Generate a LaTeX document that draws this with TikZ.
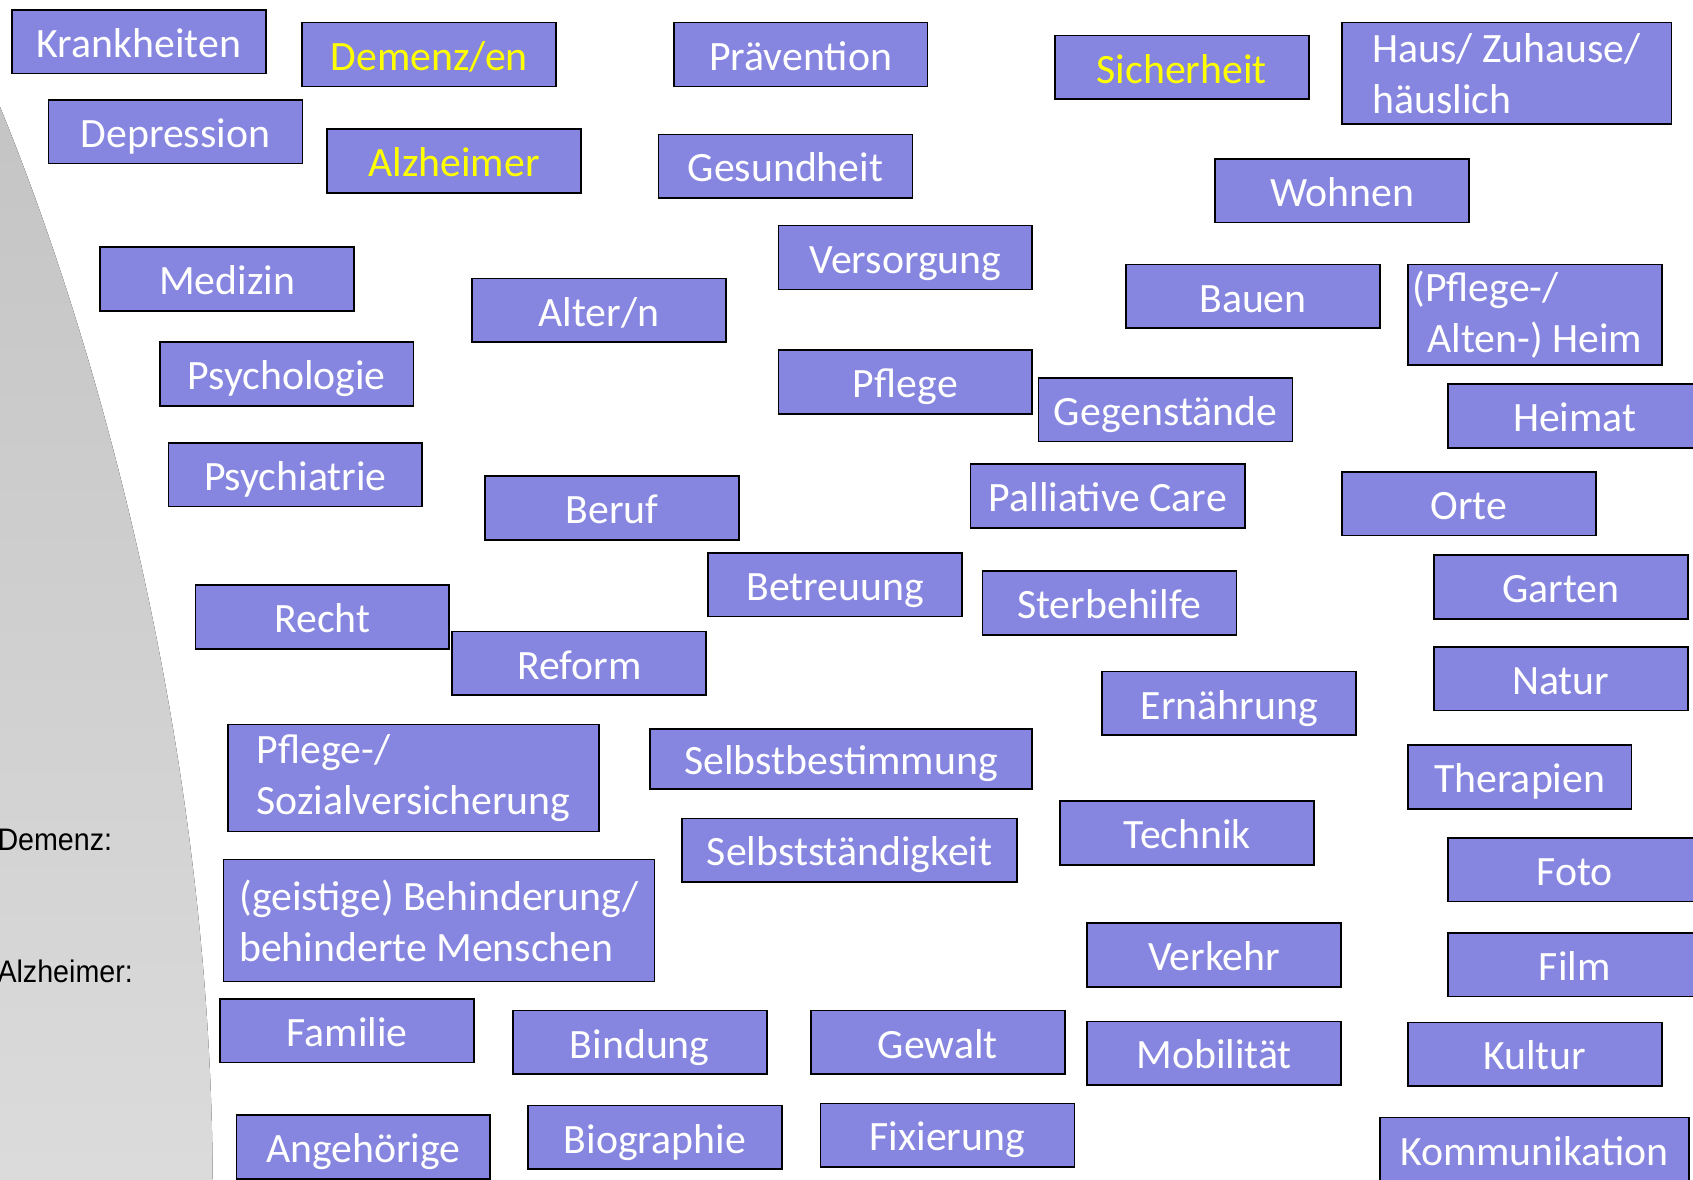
\documentclass[tikz,border=0pt]{standalone}
\usepackage{fontspec}
\setmainfont{Carlito}
\newfontfamily\arialfont{Liberation Sans}

\definecolor{themablau}{RGB}{134,134,224}
\definecolor{kastengelb}{RGB}{255,255,0}

\tikzset{
	kasten/.style={draw=black, line width=0.45pt, fill=themablau, text=white,
		font=\fontsize{11}{13.4}\selectfont, inner sep=0pt,
		minimum width=2.35cm, minimum height=0.59cm},
	thema/.style={kasten, text height=0.36cm, text depth=0.07cm},
	gelb/.style={thema, text=kastengelb},
	zweizeilig/.style={kasten, align=left},
	randtext/.style={font=\arialfont\fontsize{8.2}{9}\selectfont, inner sep=0pt, anchor=west},
}

\begin{document}
\begin{tikzpicture}[x=0.01cm, y=-0.01cm]
			%%%%% START %%%%%
			\useasboundingbox (0,0) rectangle (1568,1092);
			\clip (0,0) rectangle (1568,1092);
			
			% grauer Bogen links
			\fill[top color=black!23, bottom color=black!14] (0,99) .. controls (95,330) and (195,700) .. (197,1092) -- (199,1100) -- (0,1100) -- cycle;
			\node[randtext] (lblDemenz) at (-3,778) {\scalebox{0.92}[1]{Demenz:}};
			\node[randtext] (lblAlzheimer) at (-3,900) {\scalebox{0.92}[1]{Alzheimer:}};
			
			% linke Spalte
			\node[thema] (krank) at (128.5,38.5) {Krankheiten};
			\node[thema] (depress) at (162.5,122) {Depression};
			\node[thema] (medizin) at (210.5,258.5) {Medizin};
			\node[thema] (psychol) at (265.5,346.5) {Psychologie};
			\node[thema] (psychia) at (273.5,439.5) {Psychiatrie};
			\node[thema] (recht) at (298.5,571.5) {Recht};
			\node[zweizeilig, minimum width=3.44cm, minimum height=0.99cm] (sozvers) at (383,720.5) {Pflege-/\\Sozialversicherung};
			\node[zweizeilig, minimum width=3.99cm, minimum height=1.13cm] (behind) at (406.5,852.5) {(geistige) Behinderung/\\behinderte Menschen};
			\node[thema] (familie) at (321.5,954.5) {Familie};
			\node[thema] (angeh) at (336.5,1062.5) {Angehörige};
			
			% zweite Spalte
			\node[gelb] (demenz) at (397.5,50.5) {Demenz/en};
			\node[gelb] (alzh) at (420.5,149) {Alzheimer};
			\node[thema] (alter) at (554.5,287.5) {Alter/n};
			\node[thema] (beruf) at (567,470.5) {Beruf};
			\node[thema] (reform) at (536.5,614.5) {Reform};
			\node[thema] (bindung) at (592.5,965.5) {Bindung};
			\node[thema] (biogr) at (606.5,1053.5) {Biographie};
			
			% Mitte
			\node[thema] (praev) at (741.5,50.5) {Prävention};
			\node[thema] (gesund) at (727.5,154) {Gesundheit};
			\node[thema] (versorg) at (838.5,238.5) {Versorgung};
			\node[thema] (pflege) at (838.5,354) {Pflege};
			\node[thema] (betreu) at (773.5,541.5) {Betreuung};
			\node[thema, minimum width=3.54cm, minimum height=0.56cm] (selbstb) at (779,703) {Selbstbestimmung};
			\node[thema, minimum width=3.10cm] (selbsts) at (787,787.5) {Selbstständigkeit};
			\node[thema] (gewalt) at (868.5,965.5) {Gewalt};
			\node[thema] (fixier) at (877.5,1051.5) {Fixierung};
			
			% rechte Mitte
			\node[gelb] (sicher) at (1094.5,62.5) {Sicherheit};
			\node[thema] (wohnen) at (1243,176.5) {Wohnen};
			\node[thema] (bauen) at (1160.5,274.5) {Bauen};
			\node[thema] (gegen) at (1079.5,379.5) {Gegenstände};
			\node[thema, minimum width=2.54cm] (palli) at (1026,459.5) {Palliative Care};
			\node[thema] (sterbe) at (1027.5,558.5) {Sterbehilfe};
			\node[thema] (ernaehr) at (1138.5,651.5) {Ernährung};
			\node[thema] (technik) at (1099.5,771.5) {Technik};
			\node[thema] (verkehr) at (1124.5,884.5) {Verkehr};
			\node[thema] (mobil) at (1124.5,975.5) {Mobilität};
			
			% rechte Spalte
			\node[zweizeilig, minimum width=3.05cm, minimum height=0.94cm] (haus) at (1395.5,68) {Haus/ Zuhause/\\häuslich};
			\node[zweizeilig, minimum height=0.93cm] (heim) at (1421.5,291.5) {\hspace*{-0.14cm}(Pflege-/\\Alten-) Heim};
			\node[thema] (heimat) at (1458.5,385.5) {Heimat};
			\node[thema] (orte) at (1360.5,466.5) {Orte};
			\node[thema] (garten) at (1445.5,543.5) {Garten};
			\node[thema] (natur) at (1445.5,628.5) {Natur};
			\node[thema, minimum width=2.07cm] (therap) at (1407.5,719.5) {Therapien};
			\node[thema] (foto) at (1458.5,805.5) {Foto};
			\node[thema] (film) at (1458.5,893.5) {Film};
			\node[thema] (kultur) at (1421.5,976.5) {Kultur};
			\node[thema, minimum width=2.86cm] (kommu) at (1421,1064.5) {Kommunikation};
			
			%%%%% END %%%%%
\end{tikzpicture}
\end{document}
